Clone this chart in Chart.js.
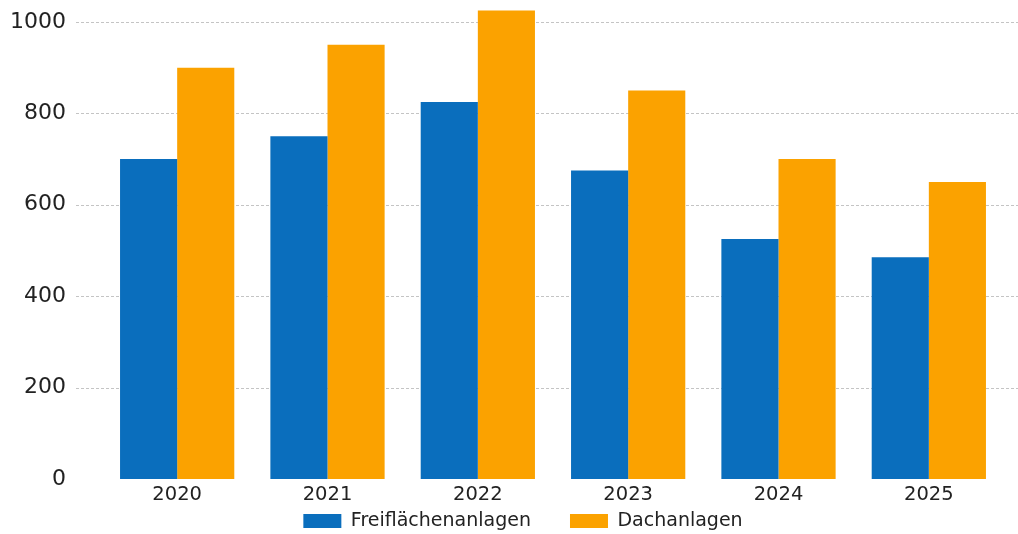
<!DOCTYPE html>
<html>
<head>
<meta charset="utf-8">
<script src="https://cdn.jsdelivr.net/npm/chart.js@4"></script>
<style>
html,body{margin:0;padding:0;background:#fff;}
#wrap{width:1018px;height:534px;}
</style>
</head>
<body>
<div id="wrap"><canvas id="c" width="1018" height="534"></canvas></div>
<script>
const categories = ['2020','2021','2022','2023','2024','2025'];
const seriesNames = ['Freiflächenanlagen','Dachanlagen'];
const freiflaechen = [700, 750, 825, 675, 525, 485];
const dach = [900, 950, 1025, 850, 700, 650];
const yTicks = [0, 200, 400, 600, 800, 1000];

const fullGrid = {
  id: 'fullGrid',
  beforeDatasetsDraw(chart) {
    const y = chart.scales.y, ctx = chart.ctx, a = chart.chartArea;
    ctx.save();
    ctx.strokeStyle = '#c4c4c4';
    ctx.lineWidth = 1;
    ctx.setLineDash([3, 2]);
    yTicks.forEach(v => {
      if (v === 0) return;
      const py = Math.round(y.getPixelForValue(v)) + 0.5;
      ctx.beginPath();
      ctx.moveTo(a.left - 26, py);
      ctx.lineTo(chart.width, py);
      ctx.stroke();
    });
    ctx.restore();
  }
};

const legendPlace = {
  id: 'legendPlace',
  afterLayout(chart) {
    const lg = chart.legend;
    if (!lg) return;
    const pad = lg.options.labels.padding;
    const fs = lg.options.labels.font.size;
    const wantTop = 521 - pad - fs / 2;
    const dy = wantTop - lg.top;
    lg.top += dy; lg.bottom += dy;
    const dx = 523 - (lg.left + lg.right) / 2;
    lg.left += dx; lg.right += dx;
  }
};

new Chart(document.getElementById('c'), {
  type: 'bar',
  data: {
    labels: categories,
    datasets: [
      { label: seriesNames[0], data: freiflaechen, backgroundColor: '#0a6ebd', borderWidth: 0 },
      { label: seriesNames[1], data: dach, backgroundColor: '#fba200', borderWidth: 0 }
    ]
  },
  options: {
    responsive: false,
    animation: false,
    layout: { padding: { left: 0, right: 14, top: 0, bottom: -40 } },
    datasets: { bar: { categoryPercentage: 0.76, barPercentage: 1.0 } },
    plugins: {
      tooltip: { enabled: false },
      legend: {
        position: 'bottom',
        labels: {
          font: { family: 'DejaVu Sans', size: 19 },
          color: '#222',
          boxWidth: 38,
          boxHeight: 14,
          padding: 39
        }
      }
    },
    scales: {
      x: {
        afterFit(scale) { scale.height = 27; },
        grid: { display: false, drawTicks: false },
        border: { display: false },
        ticks: { font: { family: 'DejaVu Sans', size: 19.5 }, color: '#222', padding: 4 }
      },
      y: {
        min: 0,
        max: 1048,
        afterBuildTicks(scale) { scale.ticks = yTicks.map(v => ({ value: v })); },
        afterFit(scale) { scale.width = 102; scale.paddingTop = 0; scale.paddingBottom = 0; },
        grid: { display: false, drawTicks: false },
        border: { display: false },
        ticks: {
          font: { family: 'DejaVu Sans', size: 22 }, color: '#222', padding: 36,
          callback: (v) => String(v)
        }
      }
    }
  },
  plugins: [fullGrid, legendPlace]
});
</script>
</body>
</html>
